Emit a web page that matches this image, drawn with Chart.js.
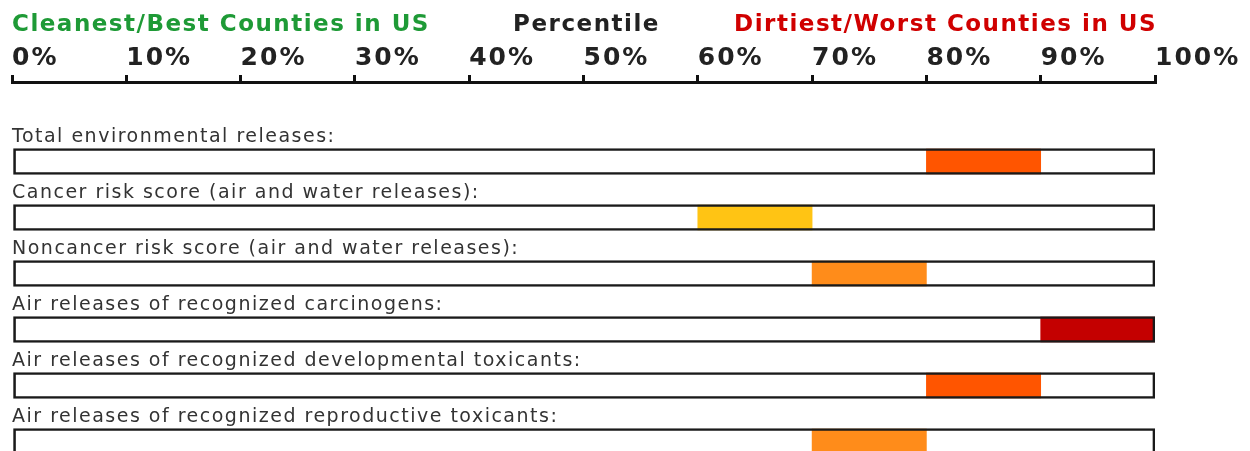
<!DOCTYPE html>
<html>
<head>
<meta charset="utf-8">
<script src="https://cdn.jsdelivr.net/npm/chart.js@4"></script>
<style>
  html, body { margin: 0; padding: 0; background: #fff; overflow: hidden; }
</style>
</head>
<body>
<canvas id="myChart" width="1250" height="451"></canvas>
<script>
// rows of the percentile chart, top to bottom
const categories = [
    'Total environmental releases:',
    'Cancer risk score (air and water releases):',
    'Noncancer risk score (air and water releases):',
    'Air releases of recognized carcinogens:',
    'Air releases of recognized developmental toxicants:',
    'Air releases of recognized reproductive toxicants:'
];
const lowValues = [80, 60, 70, 90, 80, 70];
const highValues = [90, 70, 80, 100, 90, 80];
const barColors = ['#ff5500', '#ffc414', '#ff8c1a', '#c40000', '#ff5500', '#ff8c1a'];

const tickValues = [0, 10, 20, 30, 40, 50, 60, 70, 80, 90, 100];
const tickLabels = ['0%', '10%', '20%', '30%', '40%', '50%', '60%', '70%', '80%', '90%', '100%'];

const headerLeft = 'Cleanest/Best Counties in US';
const headerMid = 'Percentile';
const headerRight = 'Dirtiest/Worst Counties in US';

// header line + row captions drawn with the chart's scales
const textPlugin = {
    id: 'texts',
    beforeDraw(chart) {
        chart.ctx.letterSpacing = '2px'; // wide look of the tick labels
    },
    afterDraw(chart) {
        const ctx = chart.ctx;
        const area = chart.chartArea;
        const yScale = chart.scales.y;
        ctx.save();
        ctx.textBaseline = 'alphabetic';

        ctx.letterSpacing = '1.5px';
        ctx.font = 'bold 23px "DejaVu Sans"';
        ctx.fillStyle = '#1e9a36';
        ctx.textAlign = 'left';
        ctx.fillText(headerLeft, area.left, 31);
        ctx.fillStyle = '#222';
        ctx.textAlign = 'center';
        ctx.fillText(headerMid, (area.left + area.right) / 2 + 3, 31);
        ctx.fillStyle = '#d00000';
        ctx.textAlign = 'right';
        ctx.fillText(headerRight, area.right + 2, 31);

        ctx.letterSpacing = '1.5px';
        ctx.font = '19px "DejaVu Sans"';
        ctx.fillStyle = '#333';
        ctx.textAlign = 'left';
        categories.forEach((label, i) => {
            ctx.fillText(label, area.left, yScale.getPixelForValue(i) - 19.5);
        });
        ctx.restore();
        ctx.letterSpacing = '0px';
    }
};

const ctx = document.getElementById('myChart');
const myChart = new Chart(ctx, {
    type: 'bar',
    data: {
        datasets: [
            {
                label: 'Percentile range',
                data: categories.map((c, i) => ({ x: [lowValues[i], highValues[i]], y: i })),
                backgroundColor: barColors,
                borderWidth: 0,
                barThickness: 25,
                grouped: false,
                order: 1
            },
            {
                label: 'Box',
                data: categories.map((c, i) => ({ x: [0, 100], y: i })),
                backgroundColor: 'rgba(0,0,0,0)',
                borderColor: '#1a1a1a',
                borderWidth: 2,
                borderSkipped: false,
                barThickness: 26,
                grouped: false,
                order: 0
            }
        ]
    },
    options: {
        indexAxis: 'y',
        responsive: false,
        animation: false,
        layout: {
            padding: { top: 41, left: 12, right: 95, bottom: 0 }
        },
        scales: {
            x: {
                type: 'linear',
                position: 'top',
                min: 0,
                max: 100,
                afterBuildTicks: scale => {
                    scale.ticks = tickValues.map(v => ({ value: v }));
                },
                ticks: {
                    align: 'start',
                    padding: 2,
                    color: '#222',
                    font: { family: 'DejaVu Sans', size: 25, weight: 'bold' },
                    callback: (value, index) => tickLabels[index]
                },
                grid: {
                    drawOnChartArea: false,
                    drawTicks: true,
                    tickLength: 7,
                    lineWidth: 3,
                    color: '#111'
                },
                border: { display: true, width: 3, color: '#111' }
            },
            y: {
                type: 'linear',
                reverse: true,
                display: false,
                offset: false,
                min: -1.42,
                max: 5.17
            }
        },
        plugins: {
            legend: { display: false },
            tooltip: { enabled: false },
            title: { display: false }
        }
    },
    plugins: [textPlugin]
});
</script>
</body>
</html>
